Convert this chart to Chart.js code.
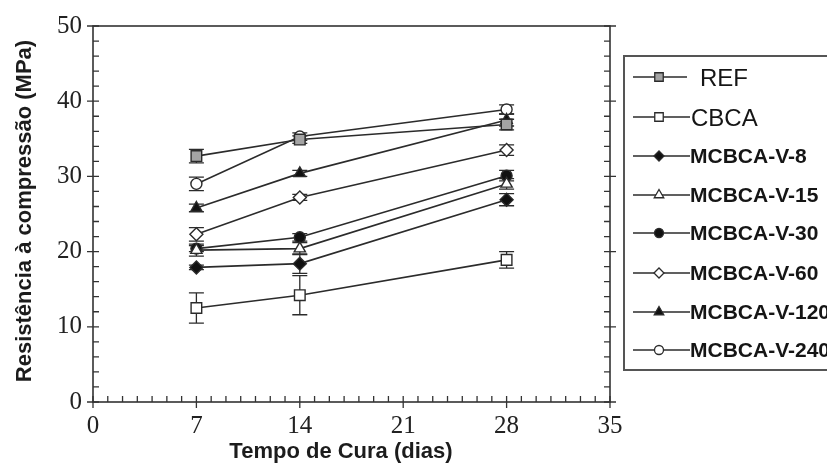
<!DOCTYPE html>
<html>
<head>
<meta charset="utf-8">
<title>Resistência à compressão</title>
<script src="https://cdn.jsdelivr.net/npm/chart.js@4/dist/chart.umd.min.js"></script>
<style>
  html, body { margin: 0; padding: 0; background: #fff; }
  #wrap { position: relative; width: 827px; height: 474px; }
</style>
</head>
<body>
<div id="wrap"><canvas id="strengthChart" width="827" height="474"></canvas></div>
<script>
// --------------------
// Data
// --------------------
const curingDays = [7, 14, 28];
const xTicks = [0, 7, 14, 21, 28, 35];
const yTicks = [0, 10, 20, 30, 40, 50];

const seriesNames = ['REF', 'CBCA', 'MCBCA-V-8', 'MCBCA-V-15', 'MCBCA-V-30', 'MCBCA-V-60', 'MCBCA-V-120', 'MCBCA-V-240'];

const refValues   = [32.7, 34.9, 36.9];
const cbcaValues  = [12.5, 14.2, 18.9];
const v8Values    = [17.9, 18.4, 26.9];
const v15Values   = [20.2, 20.4, 29.0];
const v30Values   = [20.4, 21.9, 30.1];
const v60Values   = [22.3, 27.2, 33.5];
const v120Values  = [25.8, 30.4, 37.5];
const v240Values  = [29.0, 35.3, 38.9];

// standard deviation (half height of the error bar)
const refErrors   = [0.9, 0.5, 0.7];
const cbcaErrors  = [2.0, 2.6, 1.1];
const v8Errors    = [0.3, 1.3, 0.8];
const v15Errors   = [0.8, 0.8, 0.7];
const v30Errors   = [0.4, 0.5, 0.7];
const v60Errors   = [0.9, 0.4, 0.7];
const v120Errors  = [0.5, 0.4, 0.8];
const v240Errors  = [0.9, 0.5, 0.6];

// --------------------
// Marker styles
// --------------------
const INK = '#2b2b2b';
const markers = [
    { style: 'rect',     fill: '#a4a4a4', r: 7.5, lr: 6 },
    { style: 'rect',     fill: '#ffffff', r: 7.5, lr: 6 },
    { style: 'rectRot',  fill: '#111111', r: 6.5, lr: 5 },
    { style: 'triangle', fill: '#ffffff', r: 6.5, lr: 5.5 },
    { style: 'circle',   fill: '#111111', r: 5.5, lr: 4.5 },
    { style: 'rectRot',  fill: '#ffffff', r: 6.5, lr: 5 },
    { style: 'triangle', fill: '#111111', r: 6.5, lr: 5.5 },
    { style: 'circle',   fill: '#ffffff', r: 5.5, lr: 4.5 }
];

const allValues = [refValues, cbcaValues, v8Values, v15Values, v30Values, v60Values, v120Values, v240Values];
const allErrors = [refErrors, cbcaErrors, v8Errors, v15Errors, v30Errors, v60Errors, v120Errors, v240Errors];

const datasets = seriesNames.map((name, i) => ({
    label: name,
    data: curingDays.map((d, k) => ({ x: d, y: allValues[i][k] })),
    errors: allErrors[i],
    borderColor: INK,
    borderWidth: 1.6,
    pointStyle: markers[i].style,
    pointRadius: markers[i].r,
    pointHoverRadius: markers[i].r,
    pointBackgroundColor: markers[i].fill,
    pointBorderColor: INK,
    pointBorderWidth: 1.4,
    fill: false,
    tension: 0
}));

// --------------------
// Error bars
// --------------------
const errorBarPlugin = {
    id: 'errorBars',
    beforeDatasetsDraw(chart) {
        const { ctx, scales: { x, y } } = chart;
        ctx.save();
        ctx.strokeStyle = INK;
        ctx.lineWidth = 1.3;
        chart.data.datasets.forEach(ds => {
            ds.data.forEach((p, k) => {
                const px = x.getPixelForValue(p.x);
                const top = y.getPixelForValue(p.y + ds.errors[k]);
                const bot = y.getPixelForValue(p.y - ds.errors[k]);
                ctx.beginPath();
                ctx.moveTo(px, top); ctx.lineTo(px, bot);
                ctx.moveTo(px - 7.5, top); ctx.lineTo(px + 7.5, top);
                ctx.moveTo(px - 7.5, bot); ctx.lineTo(px + 7.5, bot);
                ctx.stroke();
            });
        });
        ctx.restore();
    }
};

// --------------------
// Frame, ticks, titles, legend
// --------------------
const framePlugin = {
    id: 'frame',
    afterDraw(chart) {
        const { ctx, chartArea: a, scales: { x, y } } = chart;
        ctx.save();
        ctx.strokeStyle = '#333';
        ctx.lineWidth = 1.6;
        ctx.strokeRect(a.left, a.top, a.right - a.left, a.bottom - a.top);

        ctx.lineWidth = 1.3;
        ctx.beginPath();
        for (let v = 0; v <= 35; v += 1) {
            const px = x.getPixelForValue(v);
            if (xTicks.includes(v)) {
                ctx.moveTo(px, a.bottom - 6); ctx.lineTo(px, a.bottom + 6);
            } else {
                ctx.moveTo(px, a.bottom - 6); ctx.lineTo(px, a.bottom);
            }
        }
        for (let v = 0; v <= 50; v += 2) {
            const py = y.getPixelForValue(v);
            if (yTicks.includes(v)) {
                ctx.moveTo(a.left - 6, py); ctx.lineTo(a.left + 6, py);
                ctx.moveTo(a.right - 6, py); ctx.lineTo(a.right + 6, py);
            } else {
                ctx.moveTo(a.left, py); ctx.lineTo(a.left + 6, py);
                ctx.moveTo(a.right - 6, py); ctx.lineTo(a.right, py);
            }
        }
        ctx.stroke();

        // axis titles
        ctx.fillStyle = '#1c1c1c';
        ctx.font = 'bold 22px "Liberation Sans", Arial, sans-serif';
        ctx.textAlign = 'center';
        ctx.textBaseline = 'middle';
        ctx.fillText('Tempo de Cura (dias)', 341, 452);
        ctx.save();
        ctx.translate(25, 211);
        ctx.rotate(-Math.PI / 2);
        ctx.fillText('Resistência à compressão (MPa)', 0, 0);
        ctx.restore();

        // legend box
        ctx.strokeStyle = '#555';
        ctx.lineWidth = 2;
        ctx.strokeRect(624, 56, 240, 314);

        const rowY = [77, 117, 156, 195, 233, 273, 312, 350];
        chart.data.datasets.forEach((ds, i) => {
            const cy = rowY[i];
            ctx.strokeStyle = INK;
            ctx.lineWidth = 1.6;
            ctx.beginPath();
            ctx.moveTo(633, cy);
            ctx.lineTo(i === 0 ? 687 : 690, cy);
            ctx.stroke();

            ctx.fillStyle = markers[i].fill;
            ctx.lineWidth = 1.3;
            Chart.helpers.drawPoint(ctx, {
                pointStyle: markers[i].style,
                radius: markers[i].lr,
                rotation: 0,
                borderWidth: 1.3
            }, 659, cy);

            ctx.fillStyle = '#151515';
            ctx.textAlign = 'left';
            ctx.textBaseline = 'middle';
            if (i < 2) {
                ctx.font = '24px "Liberation Sans", Arial, sans-serif';
                ctx.fillText(ds.label, i === 0 ? 700 : 691, cy + 2);
            } else {
                ctx.font = 'bold 21px "Liberation Sans", Arial, sans-serif';
                ctx.fillText(ds.label, 690, cy + 1);
            }
        });
        ctx.restore();
    }
};

// --------------------
// Chart instance
// --------------------
const ctx = document.getElementById('strengthChart').getContext('2d');

const strengthChart = new Chart(ctx, {
    type: 'line',
    data: { datasets },
    options: {
        responsive: false,
        animation: false,
        layout: { padding: { left: 0, top: 26, right: 217, bottom: 0 } },
        plugins: {
            legend: { display: false },
            tooltip: { enabled: false }
        },
        scales: {
            x: {
                type: 'linear',
                min: 0,
                max: 35,
                afterBuildTicks: s => { s.ticks = xTicks.map(v => ({ value: v })); },
                afterFit: s => { s.height = 72; },
                grid: { display: false, drawTicks: false },
                border: { display: false },
                ticks: {
                    padding: 9,
                    color: '#222',
                    font: { family: '"Liberation Serif", "Times New Roman", serif', size: 25 }
                }
            },
            y: {
                min: 0,
                max: 50,
                afterBuildTicks: s => { s.ticks = yTicks.map(v => ({ value: v })); },
                afterFit: s => { s.width = 93; },
                grid: { display: false, drawTicks: false },
                border: { display: false },
                ticks: {
                    padding: 11,
                    color: '#222',
                    font: { family: '"Liberation Serif", "Times New Roman", serif', size: 25 }
                }
            }
        }
    },
    plugins: [errorBarPlugin, framePlugin]
});
</script>
</body>
</html>
